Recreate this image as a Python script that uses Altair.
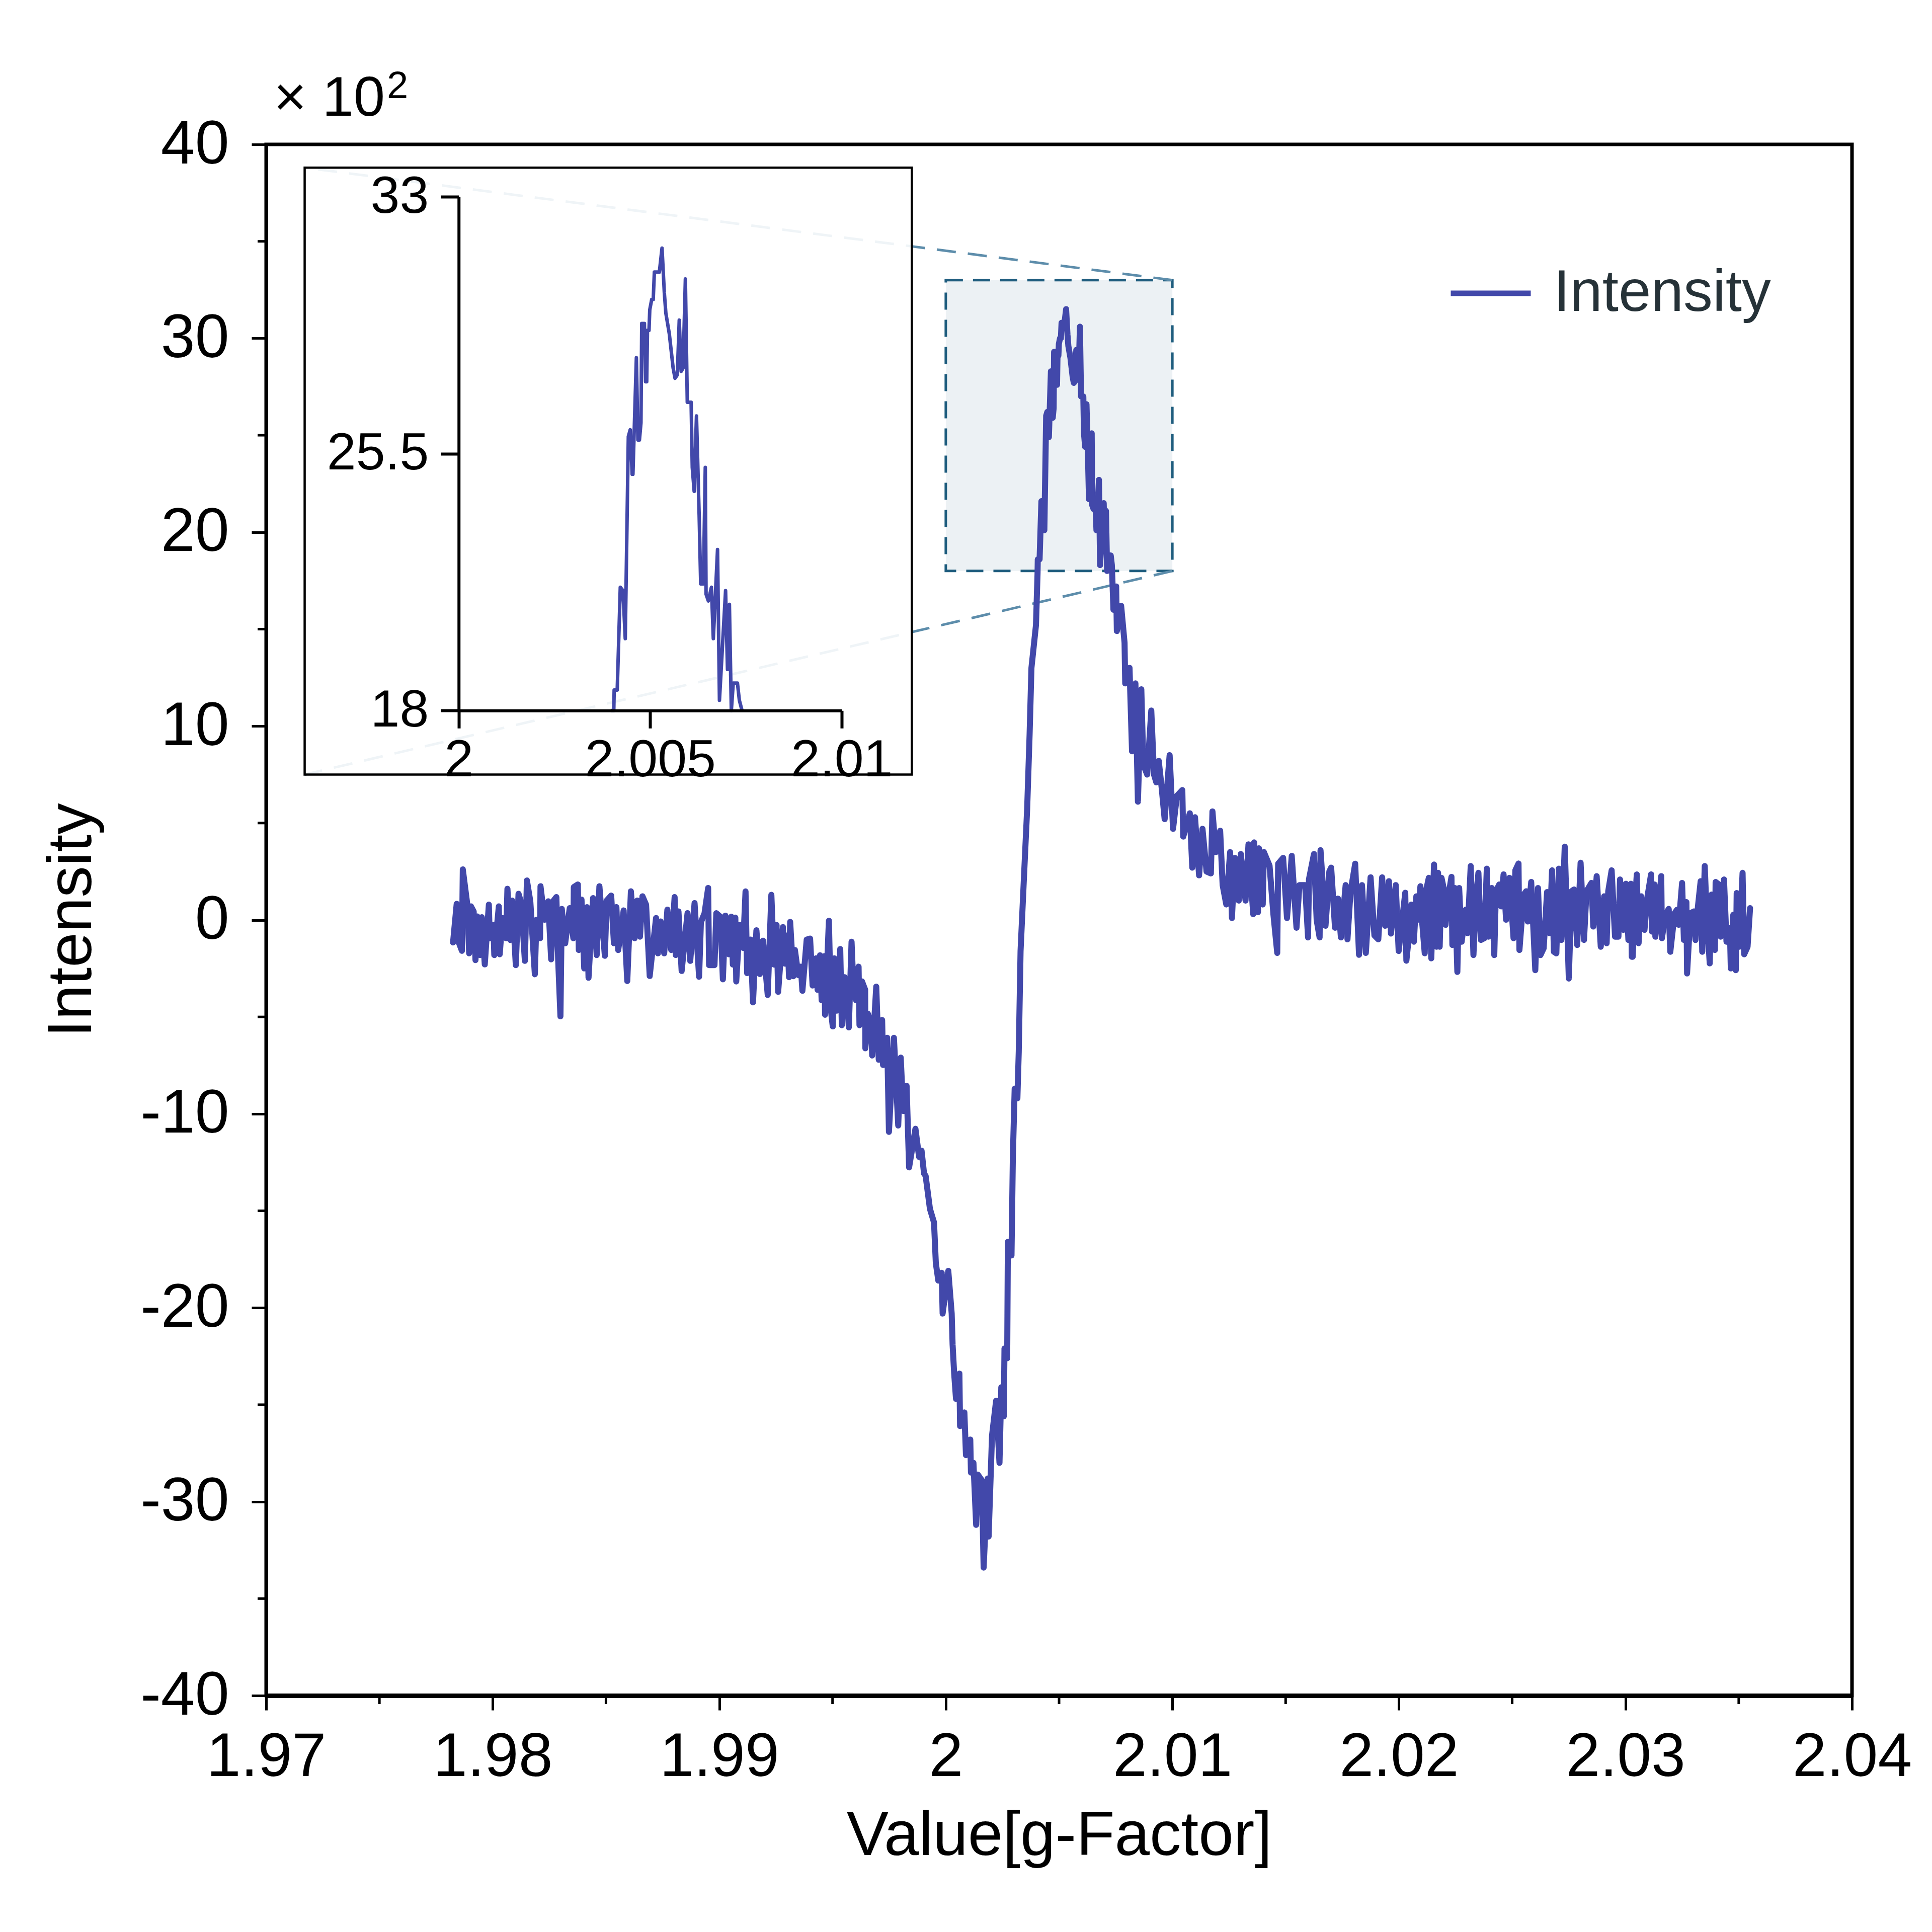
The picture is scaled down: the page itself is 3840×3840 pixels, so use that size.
import altair as alt
import pandas as pd

# ---------------------------------------------------------------------------
# EPR spectrum: (g-factor, intensity in units of 10^2), grouped by region
# ---------------------------------------------------------------------------
LOW_FIELD_BASELINE = [
    (1.97825, -1.16), (1.97841, 0.83), (1.97849, -1.12), (1.97864, -1.59), (1.97868, 2.61),
    (1.97888, 0.79), (1.97896, -1.72), (1.97904, 0.70), (1.97916, 0.44), (1.97924, -2.07),
    (1.97932, 0.18), (1.97944, -1.81), (1.97952, 0.14), (1.97965, -2.29), (1.97983, 0.79),
    (1.97987, -0.94), (1.98003, -0.25), (1.98007, -1.81), (1.98027, 0.70), (1.98031, -1.77),
    (1.98043, 0.10), (1.98059, -0.94), (1.98065, 1.61), (1.98078, -1.03), (1.98086, 1.00),
    (1.98102, -2.33), (1.98114, 1.35), (1.98126, 0.87), (1.98142, -2.11), (1.98151, 2.04),
    (1.98166, 0.96), (1.98186, -2.80), (1.98193, 0.01), (1.98209, -0.94), (1.98211, 1.74),
    (1.98229, 0.01), (1.98245, 0.96), (1.98258, -2.03), (1.98269, 1.00), (1.98281, 1.18),
    (1.98289, -2.07), (1.98299, -4.97), (1.98305, 0.57), (1.98320, -1.20), (1.98340, 0.61),
    (1.98356, -0.94), (1.98358, 1.70), (1.98376, 1.83), (1.98380, -1.55), (1.98392, 1.05),
    (1.98404, -2.50), (1.98416, 0.66), (1.98423, -2.98), (1.98443, 1.13), (1.98459, -1.81),
    (1.98471, 1.74), (1.98495, -1.85), (1.98503, 1.00), (1.98523, 1.26), (1.98535, -1.20),
    (1.98546, 0.66), (1.98554, -1.55), (1.98578, 0.49), (1.98594, -3.15), (1.98610, 1.48),
    (1.98626, -0.94), (1.98638, 1.00), (1.98650, -0.86), (1.98661, 1.22), (1.98677, 0.79),
    (1.98693, -2.89), (1.98721, 0.10), (1.98729, -1.72), (1.98741, -0.08), (1.98757, -1.72),
    (1.98771, 0.53), (1.98788, -1.55), (1.98803, 1.18), (1.98808, -1.81), (1.98820, 0.44),
    (1.98834, -2.63), (1.98860, 0.35), (1.98872, -2.11), (1.98891, 0.87), (1.98911, -2.93),
    (1.98919, -0.12), (1.98935, 0.35), (1.98951, 1.65), (1.98955, -2.33), (1.98979, -2.33),
    (1.98987, 0.35),
]

SHOULDER = [
    (1.99005, 0.17), (1.99016, -3.06), (1.99027, 0.22), (1.99042, -1.77), (1.99053, 0.17),
    (1.99060, -2.30), (1.99071, 0.12), (1.99075, -3.17), (1.99090, -0.26), (1.99105, -1.44),
    (1.99116, 1.47), (1.99123, -2.74), (1.99138, -1.01), (1.99149, -4.25), (1.99164, -0.53),
    (1.99179, -2.79), (1.99193, -1.07), (1.99214, -3.87), (1.99230, 1.30), (1.99242, -2.30),
    (1.99253, -0.26), (1.99260, -3.71), (1.99271, -1.98), (1.99281, -0.37), (1.99290, -2.25),
    (1.99301, -0.80), (1.99308, -2.95), (1.99313, -0.10), (1.99327, -2.90), (1.99334, -1.55),
    (1.99349, -2.84), (1.99360, -2.41), (1.99367, -3.65), (1.99386, -1.01), (1.99401, -0.96),
    (1.99412, -3.38), (1.99427, -1.98), (1.99434, -3.60), (1.99445, -1.82), (1.99452, -4.14),
    (1.99464, -1.87), (1.99467, -4.89), (1.99484, -0.04), (1.99493, -4.68), (1.99501, -5.49),
    (1.99508, -1.98), (1.99519, -4.68), (1.99534, -1.50), (1.99541, -5.43), (1.99553, -2.95),
    (1.99564, -4.03), (1.99572, -5.54), (1.99584, -1.12), (1.99593, -3.71), (1.99604, -4.14),
    (1.99615, -2.41), (1.99619, -5.43), (1.99630, -3.17), (1.99644, -3.60), (1.99645, -6.62),
    (1.99656, -4.84), (1.99671, -5.43), (1.99675, -6.99), (1.99693, -3.44), (1.99704, -7.21),
    (1.99719, -5.16), (1.99723, -7.48), (1.99741, -6.08), (1.99749, -10.93), (1.99771, -6.08),
    (1.99790, -10.60), (1.99801, -7.10), (1.99812, -9.85), (1.99827, -8.56), (1.99838, -12.76),
    (1.99856, -11.47), (1.99866, -10.77), (1.99882, -12.22), (1.99893, -11.90), (1.99904, -13.08),
]

TROUGH_AND_RISE = [
    (1.99911, -13.2), (1.99930, -14.9), (1.99948, -15.6), (1.99956, -17.7), (1.99967, -18.6),
    (1.99982, -18.2), (1.99986, -20.3), (2.00011, -18.1), (2.00026, -20.3), (2.00030, -21.9),
    (2.00037, -23.4), (2.00045, -24.7), (2.00060, -23.4), (2.00063, -26.1), (2.00082, -25.4),
    (2.00089, -27.6), (2.00108, -26.8), (2.00111, -28.5), (2.00122, -28.0), (2.00134, -31.2),
    (2.00141, -28.6), (2.00159, -28.9), (2.00167, -33.4), (2.00185, -28.8), (2.00189, -31.8),
    (2.00204, -26.6), (2.00222, -24.8), (2.00237, -28.0), (2.00245, -24.1), (2.00256, -25.6),
    (2.00259, -22.1), (2.00271, -22.6), (2.00274, -16.6), (2.00290, -17.3), (2.00296, -12.2),
    (2.00304, -8.7), (2.00316, -9.2), (2.00322, -6.8), (2.00330, -1.6), (2.00345, 2.2),
    (2.00359, 5.7), (2.00370, 9.6), (2.00378, 13.0), (2.00398, 15.2),
]

PEAK = [
    (2.00405, 17.9), (2.00406, 18.6), (2.00414, 18.6), (2.00422, 21.6), (2.00429, 21.5),
    (2.00435, 20.1), (2.00443, 26.0), (2.00448, 26.2), (2.00453, 24.9), (2.00455, 24.9),
    (2.00464, 28.3), (2.00468, 25.9), (2.00472, 25.9), (2.00476, 26.4), (2.00478, 29.3),
    (2.00485, 29.3), (2.00488, 27.6), (2.00491, 27.6), (2.00493, 29.1), (2.00497, 29.1),
    (2.00499, 29.7), (2.00504, 30.0), (2.00508, 30.0), (2.00511, 30.8), (2.00524, 30.8),
    (2.00531, 31.5), (2.00537, 30.2), (2.00541, 29.6), (2.00550, 29.0), (2.00555, 28.5),
    (2.00560, 28.0), (2.00565, 27.7), (2.00571, 27.8), (2.00576, 29.4), (2.00581, 27.9),
    (2.00586, 28.0), (2.00592, 30.6), (2.00597, 27.0), (2.00607, 27.0), (2.00610, 25.1),
    (2.00615, 24.4), (2.00621, 26.6), (2.00628, 23.7), (2.00632, 21.7), (2.00639, 21.7),
    (2.00644, 25.1), (2.00646, 21.4), (2.00652, 21.2), (2.00660, 21.6), (2.00665, 20.1),
    (2.00676, 22.7), (2.00681, 18.3), (2.00686, 19.3), (2.00697, 21.5), (2.00702, 19.2),
    (2.00707, 21.1), (2.00712, 18.0), (2.00717, 18.8), (2.00728, 18.8), (2.00733, 18.3),
]

DECAY = [
    (2.00740, 16.0), (2.00752, 17.2), (2.00755, 14.9), (2.00774, 16.2), (2.00789, 14.3),
    (2.00792, 12.2), (2.00811, 13.0), (2.00822, 8.7), (2.00837, 12.2), (2.00848, 6.1),
    (2.00863, 11.9), (2.00872, 8.0), (2.00889, 7.5), (2.00907, 10.8), (2.00919, 7.5),
    (2.00929, 7.1), (2.00940, 8.2), (2.00953, 6.8), (2.00966, 5.2), (2.00988, 8.5),
    (2.01003, 4.7), (2.01020, 6.4), (2.01044, 6.7), (2.01048, 4.3), (2.01077, 5.5),
    (2.01088, 2.7), (2.01100, 5.3), (2.01118, 2.3), (2.01133, 4.7), (2.01151, 2.5),
    (2.01170, 2.4), (2.01177, 5.6), (2.01192, 3.5), (2.01211, 4.6), (2.01222, 1.8),
    (2.01238, 0.8), (2.01255, 3.5), (2.01263, 0.1), (2.01276, 3.2), (2.01293, 1.0),
    (2.01302, 3.4), (2.01323, 1.0), (2.01336, 3.9), (2.01357, 0.3), (2.01361, 4.0),
    (2.01378, 0.4), (2.01382, 3.7), (2.01399, 0.8), (2.01404, 3.5), (2.01429, 2.8),
    (2.01446, 0.3), (2.01463, -1.7), (2.01467, 2.9), (2.01489, 3.2), (2.01506, 0.1),
    (2.01527, 3.3), (2.01548, -0.4), (2.01561, 1.8), (2.01586, 1.8), (2.01599, -0.9),
    (2.01603, 2.1), (2.01625, 3.4), (2.01637, 0.0), (2.01650, -0.9), (2.01654, 3.6),
    (2.01676, -0.3), (2.01693, 2.5), (2.01701, 2.7), (2.01718, -0.4), (2.01731, 1.1),
    (2.01744, -0.9), (2.01765, 1.8), (2.01773, -1.0), (2.01786, 1.4), (2.01807, 2.9),
    (2.01824, -1.8), (2.01837, 1.8), (2.01854, -1.7), (2.01875, 2.2), (2.01892, -0.8),
    (2.01909, -1.0), (2.01926, 2.2), (2.01939, -0.3), (2.01956, 2.0), (2.01965, -0.7),
    (2.01986, 1.8), (2.01999, -1.6), (2.02028, 1.4), (2.02033, -2.1),
]

HIGH_FIELD_A = [
    (2.02047, -0.51), (2.02055, 0.79), (2.02066, -1.12), (2.02077, 1.22), (2.02084, 0.01),
    (2.02095, 1.74), (2.02103, -0.16), (2.02114, -1.72), (2.02121, 1.57), (2.02132, 2.17),
    (2.02143, -1.98), (2.02155, 2.86), (2.02166, -1.38), (2.02173, 2.43), (2.02180, -1.38),
    (2.02188, 2.17), (2.02199, 1.57), (2.02206, -0.25), (2.02217, 1.13), (2.02232, 2.22),
    (2.02236, -1.29), (2.02247, 1.65), (2.02258, -2.68), (2.02266, 1.65), (2.02277, -1.12),
    (2.02295, 0.53), (2.02303, -0.68), (2.02317, 2.78), (2.02329, -1.81), (2.02340, 1.05),
    (2.02351, 2.43), (2.02362, -1.03), (2.02377, -0.94), (2.02388, 2.65), (2.02395, -0.86),
    (2.02410, 1.65), (2.02421, -1.81), (2.02428, 1.48), (2.02443, 1.83), (2.02451, 0.70),
    (2.02462, 2.35), (2.02473, 0.01), (2.02488, 2.17), (2.02506, -0.94), (2.02514, 2.56),
    (2.02528, 2.91), (2.02532, -1.55), (2.02551, 1.31), (2.02562, 1.48), (2.02569, -0.08),
    (2.02584, 1.96), (2.02602, -2.59), (2.02614, 1.65), (2.02625, -1.81), (2.02639, -1.46),
    (2.02654, 1.44), (2.02665, -0.68), (2.02676, 2.56), (2.02684, -1.64), (2.02695, -1.72),
    (2.02706, 2.65), (2.02717, -1.03), (2.02732, 3.78), (2.02750, -3.02), (2.02762, 1.48),
    (2.02773, 1.57), (2.02787, -1.29), (2.02802, 2.95), (2.02817, -1.03), (2.02828, 1.48),
    (2.02850, 1.91), (2.02858, -0.34), (2.02873, 2.26), (2.02891, -1.38), (2.02906, 1.22),
    (2.02917, -1.20), (2.02924, 1.48), (2.02939, 2.56), (2.02954, -0.86), (2.02969, -0.86),
    (2.02976, 2.09), (2.02991, -0.51), (2.03002, 1.87), (2.03013, -1.03), (2.03024, 1.87),
    (2.03028, -1.90),
]

HIGH_FIELD_B = [
    (2.03032, -1.90), (2.03043, 1.05), (2.03050, 2.35), (2.03058, -1.20), (2.03069, 1.22),
    (2.03084, -0.51), (2.03095, 1.05), (2.03113, 2.35), (2.03117, -0.60), (2.03128, 1.83),
    (2.03132, -0.86), (2.03143, 0.18), (2.03158, 2.26), (2.03161, -0.94), (2.03176, 0.27),
    (2.03191, 0.57), (2.03198, -1.64), (2.03217, 0.35), (2.03228, 0.53), (2.03235, -0.25),
    (2.03250, 1.91), (2.03258, -1.03), (2.03269, 0.92), (2.03272, -2.76), (2.03287, 0.35),
    (2.03302, 0.44), (2.03309, -1.03), (2.03320, 0.70), (2.03332, 2.00), (2.03339, -1.64),
    (2.03350, 2.78), (2.03357, 0.70), (2.03372, -2.24), (2.03380, 1.31), (2.03395, -1.55),
    (2.03398, 1.96), (2.03413, 1.83), (2.03420, -0.86), (2.03435, 2.09), (2.03446, -1.12),
    (2.03461, -0.42), (2.03465, -2.50), (2.03476, 0.27), (2.03487, -2.59), (2.03491, 1.39),
    (2.03502, -1.38), (2.03517, 2.43), (2.03524, -1.77), (2.03539, -1.38), (2.03550, 0.61),
]

SERIES_NAME = "Intensity"

# axes of the main panel
G_DOMAIN = [1.97, 2.04]
G_TICKS = [1.97, 1.98, 1.99, 2.0, 2.01, 2.02, 2.03, 2.04]
G_MINOR = [1.975, 1.985, 1.995, 2.005, 2.015, 2.025, 2.035]
I_DOMAIN = [-40, 40]
I_TICKS = [-40, -30, -20, -10, 0, 10, 20, 30, 40]
I_MINOR = [-35, -25, -15, -5, 5, 15, 25, 35]

# magnified window and its axes
ZOOM_G = [2.0, 2.01]
ZOOM_I = [18, 33]
ZOOM_G_TICKS = [2.0, 2.005, 2.01]
ZOOM_I_TICKS = [18, 25.5, 33]

# placement of the inset, expressed in main-panel axis units
INSET_FRAME_G = [1.9717, 1.9985]
INSET_FRAME_I = [7.5, 38.8]
INSET_AXES_G = [1.9785, 1.9954]
INSET_AXES_I = [10.8, 37.3]

# ---------------------------------------------------------------------------
# styling
# ---------------------------------------------------------------------------
FONT = "Liberation Sans"
LINE_COLOR = "#4248aa"
ZOOM_FILL = "#ecf1f4"
ZOOM_EDGE = "#1f5d7e"
CONNECTOR = "#5d8dab"
LEGEND_TEXT = "#263238"

W, H = 3152, 3083
PAD = {"left": 529, "top": 287, "right": 159, "bottom": 470}


def px(g):
    return (g - G_DOMAIN[0]) / (G_DOMAIN[1] - G_DOMAIN[0]) * W


def py(i):
    return (I_DOMAIN[1] - i) / (I_DOMAIN[1] - I_DOMAIN[0]) * H


rows = [p for seg in (LOW_FIELD_BASELINE, SHOULDER, TROUGH_AND_RISE, PEAK,
                      DECAY, HIGH_FIELD_A, HIGH_FIELD_B) for p in seg]
curve = pd.DataFrame(rows, columns=["g", "intensity"])
curve["series"] = SERIES_NAME

x_main = alt.Scale(domain=G_DOMAIN, nice=False, zero=False)
y_main = alt.Scale(domain=I_DOMAIN, nice=False, zero=False)

x_axis = alt.Axis(
    values=G_TICKS, labelExpr="'' + datum.value", title="Value[g-Factor]", orient="bottom",
    tickSize=29, tickWidth=5, tickColor="black", domainColor="black", domainWidth=9,
    labelFont=FONT, labelFontSize=122, labelColor="black", labelPadding=130,
    labelBaseline="alphabetic", labelFlush=False, labelOverlap=False, labelBound=False,
    labelLimit=0, grid=False, titleFont=FONT, titleFontSize=125, titleFontWeight="normal",
    titleColor="black", titleY=316, titleBaseline="alphabetic", titleLimit=0, zindex=1,
)
y_axis = alt.Axis(
    values=I_TICKS, labelExpr="'' + datum.value", title="Intensity", orient="left",
    tickSize=29, tickWidth=5, tickColor="black", domainColor="black", domainWidth=7,
    labelFont=FONT, labelFontSize=122, labelColor="black", labelPadding=45,
    labelBaseline="middle", labelFlush=False, labelOverlap=False, labelBound=False,
    labelLimit=0, grid=False, titleFont=FONT, titleFontSize=125, titleFontWeight="normal",
    titleColor="black", titleX=-349, titleY=H / 2, titleAngle=270,
    titleBaseline="alphabetic", titleAlign="center", titleLimit=0, zindex=1,
)

legend = alt.Legend(
    title=None, orient="none", legendX=2349, legendY=211, symbolType="stroke",
    symbolSize=25281, symbolStrokeWidth=11, labelFont=FONT, labelFontSize=116,
    labelColor=LEGEND_TEXT, labelOffset=40, labelLimit=0, padding=0,
)


def main_x(field):
    return alt.X(field, scale=x_main, axis=x_axis)


def main_y(field):
    return alt.Y(field, scale=y_main, axis=y_axis)


# shaded window that is magnified in the inset
zoom_df = pd.DataFrame({"g0": [ZOOM_G[0]], "g1": [ZOOM_G[1]],
                        "i0": [ZOOM_I[0]], "i1": [ZOOM_I[1]]})
zoom_rect = alt.Chart(zoom_df).mark_rect(
    fill=ZOOM_FILL, stroke=ZOOM_EDGE, strokeWidth=5, strokeDash=[34, 20]
).encode(x=main_x("g0:Q"), x2="g1", y=main_y("i0:Q"), y2="i1")

# dashed leaders from the window corners to the inset corners
lead_df = pd.DataFrame({
    "g": [ZOOM_G[1], ZOOM_G[1]],
    "i": [ZOOM_I[1], ZOOM_I[0]],
    "g2": [INSET_FRAME_G[0], INSET_FRAME_G[0]],
    "i2": [INSET_FRAME_I[1], INSET_FRAME_I[0]],
})
leaders = alt.Chart(lead_df).mark_rule(
    color=CONNECTOR, strokeWidth=5, strokeDash=[38, 24]
).encode(x=main_x("g:Q"), x2="g2", y=main_y("i:Q"), y2="i2")

# inset panel background and frame
frame_df = pd.DataFrame({"g0": [INSET_FRAME_G[0]], "g1": [INSET_FRAME_G[1]],
                         "i0": [INSET_FRAME_I[0]], "i1": [INSET_FRAME_I[1]]})
inset_frame = alt.Chart(frame_df).mark_rect(
    fill="white", fillOpacity=0.9, stroke="black", strokeWidth=4.5
).encode(x=main_x("g0:Q"), x2="g1", y=main_y("i0:Q"), y2="i1")

spectrum = alt.Chart(curve).mark_line(
    strokeWidth=12, strokeJoin="round", strokeCap="round"
).encode(
    x=main_x("g:Q"),
    y=main_y("intensity:Q"),
    color=alt.Color("series:N", scale=alt.Scale(domain=[SERIES_NAME], range=[LINE_COLOR]),
                    legend=legend),
)

# minor ticks on both main axes
gminor = pd.DataFrame({"g": G_MINOR, "base": [I_DOMAIN[0]] * len(G_MINOR)})
minor_x = alt.Chart(gminor).mark_rule(color="black", strokeWidth=5, y2Offset=17).encode(
    x=main_x("g:Q"), y=main_y("base:Q"), y2="base",
)
iminor = pd.DataFrame({"i": I_MINOR, "base": [G_DOMAIN[0]] * len(I_MINOR)})
minor_y = alt.Chart(iminor).mark_rule(color="black", strokeWidth=5, x2Offset=-17).encode(
    x=main_x("base:Q"), x2="base", y=main_y("i:Q"),
)

# axis multiplier above the y axis: "× 10" with a raised exponent
mult_df = pd.DataFrame({"g": [G_DOMAIN[0]], "i": [I_DOMAIN[1]],
                        "base_txt": ["\u00d7 10"], "exp_txt": ["2"]})
mult_base = alt.Chart(mult_df).mark_text(
    align="left", baseline="alphabetic", dx=15, dy=-57, fontSize=112, font=FONT, color="black"
).encode(x=main_x("g:Q"), y=main_y("i:Q"), text="base_txt:N")
mult_exp = alt.Chart(mult_df).mark_text(
    align="left", baseline="alphabetic", dx=240, dy=-92, fontSize=76, font=FONT, color="black"
).encode(x=main_x("g:Q"), y=main_y("i:Q"), text="exp_txt:N")

main = alt.layer(zoom_rect, leaders, inset_frame, spectrum, minor_x, minor_y,
                 mult_base, mult_exp)

# inset: the same spectrum restricted to the magnified window
inset_x = alt.Scale(domain=ZOOM_G, range=[px(INSET_AXES_G[0]), px(INSET_AXES_G[1])],
                    nice=False, zero=False)
inset_y = alt.Scale(domain=ZOOM_I, range=[py(INSET_AXES_I[0]), py(INSET_AXES_I[1])],
                    nice=False, zero=False, clamp=True)
inset_x_axis = alt.Axis(
    values=ZOOM_G_TICKS, labelExpr="'' + datum.value", title=None, orient="bottom",
    offset=-(H - py(INSET_AXES_I[0])), tickSize=35, tickWidth=6, tickColor="black",
    domainColor="black", domainWidth=6, labelFont=FONT, labelFontSize=104,
    labelColor="black", labelPadding=95, labelBaseline="alphabetic", labelFlush=False,
    labelOverlap=False, labelBound=False, labelLimit=0, grid=False, zindex=1,
)
inset_y_axis = alt.Axis(
    values=ZOOM_I_TICKS, labelExpr="'' + datum.value", title=None, orient="left",
    offset=-px(INSET_AXES_G[0]), tickSize=36, tickWidth=6, tickColor="black",
    domainColor="black", domainWidth=6, labelFont=FONT, labelFontSize=104,
    labelColor="black", labelPadding=24, labelBaseline="middle", labelFlush=False,
    labelOverlap=False, labelBound=False, labelLimit=0, grid=False, zindex=1,
)
inset_line = alt.Chart(curve).transform_filter(
    alt.FieldRangePredicate(field="g", range=[2.0039, 2.0075])
).mark_line(color=LINE_COLOR, strokeWidth=7, strokeJoin="round").encode(
    x=alt.X("g:Q", scale=inset_x, axis=inset_x_axis),
    y=alt.Y("intensity:Q", scale=inset_y, axis=inset_y_axis),
)

chart = alt.layer(main, inset_line).resolve_scale(
    x="independent", y="independent"
).properties(
    width=W, height=H, padding=PAD,
    autosize=alt.AutoSizeParams(type="none"), background="white",
).configure_view(stroke="black", strokeWidth=7)

chart.save("out.html", embed_options={"renderer": "svg", "actions": False})
